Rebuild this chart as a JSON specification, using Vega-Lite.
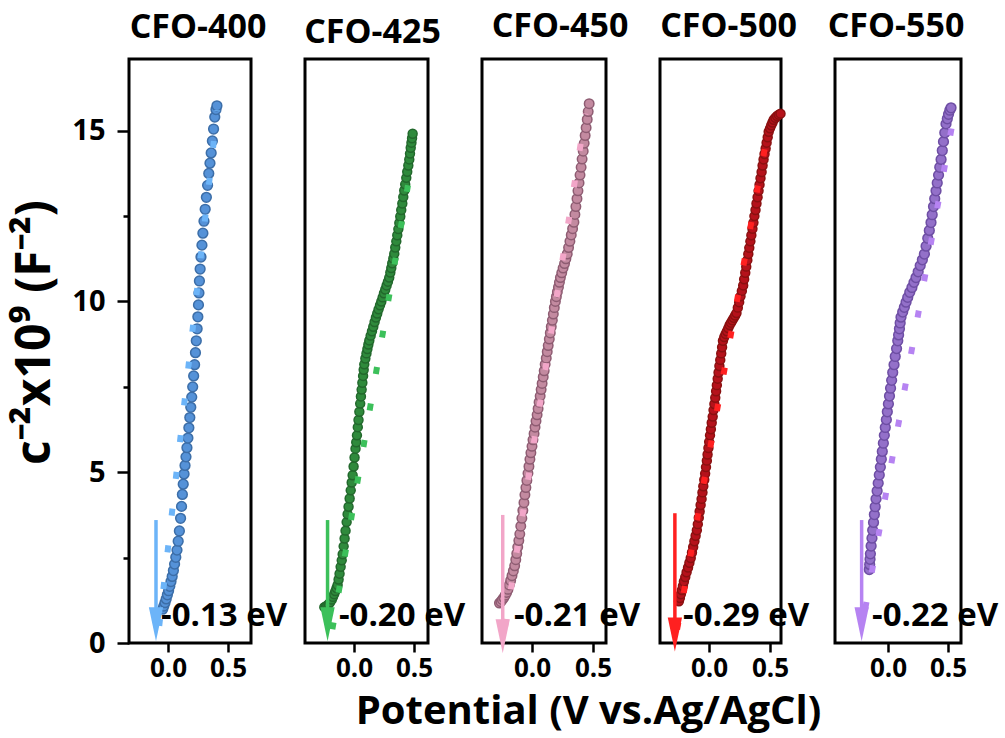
{
  "$schema": "https://vega.github.io/schema/vega-lite/v6.json",
  "autosize": {"type": "pad"},
  "padding": {"left": 9, "top": 8, "right": 5, "bottom": 5},
  "background": "white",
  "config": {
    "view": {"stroke": "black", "strokeWidth": 3},
    "axis": {"grid": false, "domain": false, "tickColor": "black", "tickWidth": 2.5, "labelColor": "black", "labelFont": "Open Sans", "labelFontWeight": "bold", "titleFont": "Open Sans", "titleFontWeight": "bold", "titleColor": "black", "labelOverlap": false, "labelFlush": false},
    "title": {"font": "Open Sans", "fontSize": 34, "fontWeight": "bold", "color": "black", "baseline": "alphabetic"}
  },
  "datasets": {
    "pts": [
      {"s":"400","v":-0.044,"c":0.99},{"s":"400","v":-0.035,"c":1.08},{"s":"400","v":-0.025,"c":1.18},{"s":"400","v":-0.015,"c":1.29},{"s":"400","v":-0.005,"c":1.41},{"s":"400","v":0.005,"c":1.53},{"s":"400","v":0.015,"c":1.66},{"s":"400","v":0.025,"c":1.80},{"s":"400","v":0.035,"c":1.95},{"s":"400","v":0.045,"c":2.12},{"s":"400","v":0.055,"c":2.31},{"s":"400","v":0.065,"c":2.51},{"s":"400","v":0.075,"c":2.72},{"s":"400","v":0.085,"c":2.98},{"s":"400","v":0.095,"c":3.28},{"s":"400","v":0.105,"c":3.65},{"s":"400","v":0.113,"c":4.0},{"s":"400","v":0.12,"c":4.35},{"s":"400","v":0.127,"c":4.65},{"s":"400","v":0.134,"c":4.95},{"s":"400","v":0.142,"c":5.2},{"s":"400","v":0.15,"c":5.45},{"s":"400","v":0.158,"c":5.72},{"s":"400","v":0.166,"c":6.0},{"s":"400","v":0.174,"c":6.3},{"s":"400","v":0.182,"c":6.6},{"s":"400","v":0.19,"c":6.9},{"s":"400","v":0.198,"c":7.2},{"s":"400","v":0.206,"c":7.5},{"s":"400","v":0.214,"c":7.82},{"s":"400","v":0.222,"c":8.15},{"s":"400","v":0.229,"c":8.5},{"s":"400","v":0.236,"c":8.85},{"s":"400","v":0.243,"c":9.2},{"s":"400","v":0.249,"c":9.55},{"s":"400","v":0.254,"c":9.9},{"s":"400","v":0.258,"c":10.25},{"s":"400","v":0.262,"c":10.6},{"s":"400","v":0.268,"c":10.95},{"s":"400","v":0.275,"c":11.3},{"s":"400","v":0.283,"c":11.65},{"s":"400","v":0.291,"c":12.0},{"s":"400","v":0.3,"c":12.35},{"s":"400","v":0.31,"c":12.7},{"s":"400","v":0.32,"c":13.05},{"s":"400","v":0.33,"c":13.4},{"s":"400","v":0.34,"c":13.75},{"s":"400","v":0.35,"c":14.05},{"s":"400","v":0.36,"c":14.35},{"s":"400","v":0.37,"c":14.7},{"s":"400","v":0.38,"c":15.05},{"s":"400","v":0.39,"c":15.4},{"s":"400","v":0.4,"c":15.62},{"s":"400","v":0.408,"c":15.73},

      {"s":"425","v":-0.247,"c":1.05},{"s":"425","v":-0.235,"c":1.07},{"s":"425","v":-0.222,"c":1.1},{"s":"425","v":-0.21,"c":1.14},{"s":"425","v":-0.198,"c":1.19},{"s":"425","v":-0.185,"c":1.27},{"s":"425","v":-0.175,"c":1.35},{"s":"425","v":-0.165,"c":1.43},{"s":"425","v":-0.155,"c":1.52},{"s":"425","v":-0.145,"c":1.61},{"s":"425","v":-0.136,"c":1.7},{"s":"425","v":-0.128,"c":1.86},{"s":"425","v":-0.12,"c":2.03},{"s":"425","v":-0.111,"c":2.23},{"s":"425","v":-0.102,"c":2.42},{"s":"425","v":-0.094,"c":2.6},{"s":"425","v":-0.086,"c":2.83},{"s":"425","v":-0.078,"c":3.06},{"s":"425","v":-0.07,"c":3.29},{"s":"425","v":-0.061,"c":3.54},{"s":"425","v":-0.053,"c":3.77},{"s":"425","v":-0.045,"c":3.99},{"s":"425","v":-0.036,"c":4.23},{"s":"425","v":-0.027,"c":4.47},{"s":"425","v":-0.019,"c":4.7},{"s":"425","v":-0.011,"c":4.91},{"s":"425","v":-0.003,"c":5.17},{"s":"425","v":0.005,"c":5.43},{"s":"425","v":0.013,"c":5.69},{"s":"425","v":0.019,"c":5.88},{"s":"425","v":0.025,"c":6.08},{"s":"425","v":0.032,"c":6.32},{"s":"425","v":0.038,"c":6.53},{"s":"425","v":0.045,"c":6.77},{"s":"425","v":0.052,"c":7.01},{"s":"425","v":0.058,"c":7.22},{"s":"425","v":0.064,"c":7.42},{"s":"425","v":0.07,"c":7.62},{"s":"425","v":0.076,"c":7.82},{"s":"425","v":0.081,"c":8.0},{"s":"425","v":0.086,"c":8.16},{"s":"425","v":0.095,"c":8.33},{"s":"425","v":0.104,"c":8.48},{"s":"425","v":0.112,"c":8.61},{"s":"425","v":0.12,"c":8.74},{"s":"425","v":0.128,"c":8.86},{"s":"425","v":0.139,"c":9.0},{"s":"425","v":0.15,"c":9.13},{"s":"425","v":0.161,"c":9.26},{"s":"425","v":0.172,"c":9.4},{"s":"425","v":0.183,"c":9.53},{"s":"425","v":0.194,"c":9.65},{"s":"425","v":0.205,"c":9.77},{"s":"425","v":0.217,"c":9.89},{"s":"425","v":0.228,"c":10.0},{"s":"425","v":0.239,"c":10.12},{"s":"425","v":0.25,"c":10.24},{"s":"425","v":0.261,"c":10.35},{"s":"425","v":0.272,"c":10.47},{"s":"425","v":0.283,"c":10.58},{"s":"425","v":0.294,"c":10.7},{"s":"425","v":0.303,"c":10.85},{"s":"425","v":0.311,"c":10.98},{"s":"425","v":0.319,"c":11.12},{"s":"425","v":0.328,"c":11.26},{"s":"425","v":0.336,"c":11.4},{"s":"425","v":0.344,"c":11.58},{"s":"425","v":0.353,"c":11.76},{"s":"425","v":0.361,"c":11.94},{"s":"425","v":0.37,"c":12.12},{"s":"425","v":0.378,"c":12.3},{"s":"425","v":0.386,"c":12.49},{"s":"425","v":0.394,"c":12.68},{"s":"425","v":0.403,"c":12.87},{"s":"425","v":0.411,"c":13.06},{"s":"425","v":0.419,"c":13.25},{"s":"425","v":0.427,"c":13.43},{"s":"425","v":0.436,"c":13.62},{"s":"425","v":0.444,"c":13.8},{"s":"425","v":0.453,"c":13.98},{"s":"425","v":0.461,"c":14.16},{"s":"425","v":0.467,"c":14.33},{"s":"425","v":0.473,"c":14.5},{"s":"425","v":0.479,"c":14.65},{"s":"425","v":0.484,"c":14.78},{"s":"425","v":0.489,"c":14.91},

      {"s":"450","v":-0.267,"c":1.17},{"s":"450","v":-0.255,"c":1.21},{"s":"450","v":-0.243,"c":1.27},{"s":"450","v":-0.231,"c":1.33},{"s":"450","v":-0.219,"c":1.4},{"s":"450","v":-0.208,"c":1.48},{"s":"450","v":-0.197,"c":1.57},{"s":"450","v":-0.186,"c":1.7},{"s":"450","v":-0.175,"c":1.83},{"s":"450","v":-0.164,"c":1.97},{"s":"450","v":-0.153,"c":2.11},{"s":"450","v":-0.142,"c":2.26},{"s":"450","v":-0.133,"c":2.44},{"s":"450","v":-0.125,"c":2.62},{"s":"450","v":-0.117,"c":2.81},{"s":"450","v":-0.108,"c":3.0},{"s":"450","v":-0.1,"c":3.19},{"s":"450","v":-0.092,"c":3.42},{"s":"450","v":-0.083,"c":3.65},{"s":"450","v":-0.075,"c":3.88},{"s":"450","v":-0.066,"c":4.11},{"s":"450","v":-0.058,"c":4.34},{"s":"450","v":-0.05,"c":4.55},{"s":"450","v":-0.042,"c":4.76},{"s":"450","v":-0.033,"c":4.97},{"s":"450","v":-0.025,"c":5.17},{"s":"450","v":-0.017,"c":5.38},{"s":"450","v":-0.009,"c":5.57},{"s":"450","v":0.0,"c":5.76},{"s":"450","v":0.008,"c":5.95},{"s":"450","v":0.017,"c":6.13},{"s":"450","v":0.025,"c":6.32},{"s":"450","v":0.033,"c":6.5},{"s":"450","v":0.042,"c":6.68},{"s":"450","v":0.05,"c":6.86},{"s":"450","v":0.058,"c":7.05},{"s":"450","v":0.067,"c":7.23},{"s":"450","v":0.075,"c":7.42},{"s":"450","v":0.083,"c":7.6},{"s":"450","v":0.092,"c":7.79},{"s":"450","v":0.1,"c":7.97},{"s":"450","v":0.108,"c":8.16},{"s":"450","v":0.117,"c":8.34},{"s":"450","v":0.125,"c":8.53},{"s":"450","v":0.133,"c":8.71},{"s":"450","v":0.142,"c":8.9},{"s":"450","v":0.15,"c":9.08},{"s":"450","v":0.158,"c":9.26},{"s":"450","v":0.167,"c":9.45},{"s":"450","v":0.175,"c":9.63},{"s":"450","v":0.183,"c":9.82},{"s":"450","v":0.192,"c":10.0},{"s":"450","v":0.2,"c":10.14},{"s":"450","v":0.208,"c":10.28},{"s":"450","v":0.217,"c":10.42},{"s":"450","v":0.225,"c":10.56},{"s":"450","v":0.233,"c":10.7},{"s":"450","v":0.244,"c":10.84},{"s":"450","v":0.255,"c":10.98},{"s":"450","v":0.267,"c":11.11},{"s":"450","v":0.278,"c":11.25},{"s":"450","v":0.289,"c":11.39},{"s":"450","v":0.3,"c":11.58},{"s":"450","v":0.311,"c":11.76},{"s":"450","v":0.322,"c":11.95},{"s":"450","v":0.333,"c":12.13},{"s":"450","v":0.344,"c":12.32},{"s":"450","v":0.352,"c":12.55},{"s":"450","v":0.36,"c":12.78},{"s":"450","v":0.369,"c":13.01},{"s":"450","v":0.377,"c":13.24},{"s":"450","v":0.386,"c":13.47},{"s":"450","v":0.394,"c":13.7},{"s":"450","v":0.403,"c":13.93},{"s":"450","v":0.411,"c":14.17},{"s":"450","v":0.42,"c":14.4},{"s":"450","v":0.428,"c":14.63},{"s":"450","v":0.436,"c":14.86},{"s":"450","v":0.444,"c":15.09},{"s":"450","v":0.453,"c":15.33},{"s":"450","v":0.461,"c":15.56},{"s":"450","v":0.469,"c":15.79},

      {"s":"500","v":-0.247,"c":1.22},{"s":"500","v":-0.239,"c":1.32},{"s":"500","v":-0.231,"c":1.43},{"s":"500","v":-0.222,"c":1.55},{"s":"500","v":-0.214,"c":1.67},{"s":"500","v":-0.206,"c":1.8},{"s":"500","v":-0.195,"c":1.93},{"s":"500","v":-0.184,"c":2.07},{"s":"500","v":-0.172,"c":2.21},{"s":"500","v":-0.161,"c":2.35},{"s":"500","v":-0.15,"c":2.49},{"s":"500","v":-0.14,"c":2.65},{"s":"500","v":-0.13,"c":2.81},{"s":"500","v":-0.12,"c":2.98},{"s":"500","v":-0.11,"c":3.14},{"s":"500","v":-0.1,"c":3.3},{"s":"500","v":-0.092,"c":3.48},{"s":"500","v":-0.084,"c":3.67},{"s":"500","v":-0.077,"c":3.85},{"s":"500","v":-0.069,"c":4.04},{"s":"500","v":-0.061,"c":4.22},{"s":"500","v":-0.054,"c":4.41},{"s":"500","v":-0.047,"c":4.59},{"s":"500","v":-0.039,"c":4.78},{"s":"500","v":-0.032,"c":4.96},{"s":"500","v":-0.025,"c":5.15},{"s":"500","v":-0.018,"c":5.34},{"s":"500","v":-0.012,"c":5.52},{"s":"500","v":-0.005,"c":5.71},{"s":"500","v":0.001,"c":5.89},{"s":"500","v":0.008,"c":6.08},{"s":"500","v":0.015,"c":6.26},{"s":"500","v":0.022,"c":6.45},{"s":"500","v":0.03,"c":6.63},{"s":"500","v":0.037,"c":6.82},{"s":"500","v":0.044,"c":7.0},{"s":"500","v":0.051,"c":7.18},{"s":"500","v":0.058,"c":7.37},{"s":"500","v":0.064,"c":7.55},{"s":"500","v":0.071,"c":7.74},{"s":"500","v":0.078,"c":7.92},{"s":"500","v":0.085,"c":8.11},{"s":"500","v":0.092,"c":8.29},{"s":"500","v":0.1,"c":8.48},{"s":"500","v":0.107,"c":8.66},{"s":"500","v":0.114,"c":8.85},{"s":"500","v":0.125,"c":8.96},{"s":"500","v":0.136,"c":9.05},{"s":"500","v":0.147,"c":9.13},{"s":"500","v":0.158,"c":9.22},{"s":"500","v":0.169,"c":9.31},{"s":"500","v":0.18,"c":9.38},{"s":"500","v":0.192,"c":9.45},{"s":"500","v":0.203,"c":9.52},{"s":"500","v":0.214,"c":9.59},{"s":"500","v":0.225,"c":9.66},{"s":"500","v":0.236,"c":9.82},{"s":"500","v":0.247,"c":9.98},{"s":"500","v":0.258,"c":10.15},{"s":"500","v":0.269,"c":10.31},{"s":"500","v":0.28,"c":10.47},{"s":"500","v":0.288,"c":10.65},{"s":"500","v":0.297,"c":10.84},{"s":"500","v":0.305,"c":11.02},{"s":"500","v":0.314,"c":11.21},{"s":"500","v":0.322,"c":11.39},{"s":"500","v":0.33,"c":11.57},{"s":"500","v":0.339,"c":11.76},{"s":"500","v":0.347,"c":11.94},{"s":"500","v":0.356,"c":12.13},{"s":"500","v":0.364,"c":12.31},{"s":"500","v":0.372,"c":12.5},{"s":"500","v":0.381,"c":12.68},{"s":"500","v":0.389,"c":12.87},{"s":"500","v":0.398,"c":13.05},{"s":"500","v":0.406,"c":13.24},{"s":"500","v":0.414,"c":13.42},{"s":"500","v":0.422,"c":13.61},{"s":"500","v":0.431,"c":13.79},{"s":"500","v":0.439,"c":13.98},{"s":"500","v":0.447,"c":14.16},{"s":"500","v":0.455,"c":14.32},{"s":"500","v":0.464,"c":14.48},{"s":"500","v":0.472,"c":14.65},{"s":"500","v":0.481,"c":14.81},{"s":"500","v":0.489,"c":14.97},{"s":"500","v":0.5,"c":15.07},{"s":"500","v":0.51,"c":15.16},{"s":"500","v":0.52,"c":15.24},{"s":"500","v":0.53,"c":15.32},{"s":"500","v":0.544,"c":15.38},{"s":"500","v":0.558,"c":15.43},{"s":"500","v":0.572,"c":15.47},{"s":"500","v":0.586,"c":15.5},

      {"s":"550","v":-0.156,"c":2.15},{"s":"550","v":-0.153,"c":2.3},{"s":"550","v":-0.15,"c":2.45},{"s":"550","v":-0.147,"c":2.61},{"s":"550","v":-0.141,"c":2.84},{"s":"550","v":-0.134,"c":3.07},{"s":"550","v":-0.128,"c":3.3},{"s":"550","v":-0.121,"c":3.53},{"s":"550","v":-0.114,"c":3.76},{"s":"550","v":-0.107,"c":3.99},{"s":"550","v":-0.1,"c":4.22},{"s":"550","v":-0.091,"c":4.45},{"s":"550","v":-0.082,"c":4.68},{"s":"550","v":-0.073,"c":4.92},{"s":"550","v":-0.064,"c":5.15},{"s":"550","v":-0.056,"c":5.38},{"s":"550","v":-0.048,"c":5.61},{"s":"550","v":-0.039,"c":5.85},{"s":"550","v":-0.031,"c":6.08},{"s":"550","v":-0.023,"c":6.31},{"s":"550","v":-0.014,"c":6.54},{"s":"550","v":-0.006,"c":6.77},{"s":"550","v":0.003,"c":7.0},{"s":"550","v":0.012,"c":7.23},{"s":"550","v":0.021,"c":7.46},{"s":"550","v":0.03,"c":7.69},{"s":"550","v":0.039,"c":7.92},{"s":"550","v":0.05,"c":8.15},{"s":"550","v":0.06,"c":8.39},{"s":"550","v":0.071,"c":8.62},{"s":"550","v":0.081,"c":8.85},{"s":"550","v":0.088,"c":9.02},{"s":"550","v":0.095,"c":9.2},{"s":"550","v":0.101,"c":9.37},{"s":"550","v":0.108,"c":9.54},{"s":"550","v":0.122,"c":9.69},{"s":"550","v":0.136,"c":9.83},{"s":"550","v":0.15,"c":9.98},{"s":"550","v":0.164,"c":10.12},{"s":"550","v":0.181,"c":10.27},{"s":"550","v":0.199,"c":10.41},{"s":"550","v":0.216,"c":10.56},{"s":"550","v":0.233,"c":10.7},{"s":"550","v":0.251,"c":10.87},{"s":"550","v":0.268,"c":11.05},{"s":"550","v":0.286,"c":11.22},{"s":"550","v":0.303,"c":11.39},{"s":"550","v":0.317,"c":11.62},{"s":"550","v":0.331,"c":11.85},{"s":"550","v":0.344,"c":12.08},{"s":"550","v":0.358,"c":12.31},{"s":"550","v":0.368,"c":12.54},{"s":"550","v":0.379,"c":12.78},{"s":"550","v":0.389,"c":13.01},{"s":"550","v":0.4,"c":13.24},{"s":"550","v":0.41,"c":13.47},{"s":"550","v":0.421,"c":13.7},{"s":"550","v":0.431,"c":13.93},{"s":"550","v":0.442,"c":14.16},{"s":"550","v":0.452,"c":14.42},{"s":"550","v":0.462,"c":14.68},{"s":"550","v":0.473,"c":14.94},{"s":"550","v":0.483,"c":15.2},{"s":"550","v":0.494,"c":15.35},{"s":"550","v":0.504,"c":15.48},{"s":"550","v":0.515,"c":15.6},{"s":"550","v":0.525,"c":15.67}
    ],
    "fit": [
      {"s":"400","v":-0.073,"c":0.5},{"s":"400","v":0.411,"c":15.6},
      {"s":"425","v":-0.18,"c":0.4},{"s":"425","v":0.45,"c":13.4},
      {"s":"450","v":-0.22,"c":0.5},{"s":"450","v":0.438,"c":15.5},
      {"s":"500","v":-0.262,"c":0.4},{"s":"500","v":0.499,"c":15.3},
      {"s":"550","v":-0.19,"c":1.0},{"s":"550","v":0.536,"c":15.2}
    ],
    "arr": [
      {"s":"400","v":-0.1,"c":3.6,"c2":0.9,"h":0.55},
      {"s":"425","v":-0.22,"c":3.6,"c2":0.9,"h":0.55},
      {"s":"450","v":-0.24,"c":3.75,"c2":0.6,"h":0.2},
      {"s":"500","v":-0.28,"c":3.8,"c2":0.6,"h":0.25},
      {"s":"550","v":-0.22,"c":3.6,"c2":0.9,"h":0.55}
    ],
    "lab": [
      {"s":"400","v":-0.058,"c":0.8,"t":"-0.13 eV"},
      {"s":"425","v":-0.125,"c":0.8,"t":"-0.20 eV"},
      {"s":"450","v":-0.148,"c":0.8,"t":"-0.21 eV"},
      {"s":"500","v":-0.213,"c":0.8,"t":"-0.29 eV"},
      {"s":"550","v":-0.133,"c":0.8,"t":"-0.22 eV"}
    ]
  },
  "hconcat": [
    {
      "width": 122, "height": 584,
      "title": {"text": "CFO-400", "offset": 14, "dx": 8},
      "resolve": {"axis": {"y": "independent"}},
      "layer": [
        {"data": {"name": "pts"}, "transform": [{"filter": "datum.s === '400'"}],
         "mark": {"type": "circle", "size": 95, "opacity": 1, "color": "#5592d8", "stroke": "#3c6ea8", "strokeWidth": 1.5},
         "encoding": {
           "x": {"field": "v", "type": "quantitative", "scale": {"domain": [-0.325, 0.692], "nice": false, "zero": false},
                 "axis": {"values": [0, 0.5], "format": ".1f", "labelFontSize": 26, "tickSize": 9, "labelPadding": 3, "title": null}},
           "y": {"field": "c", "type": "quantitative", "scale": {"domain": [0, 17.1], "nice": false, "zero": false},
                 "axis": {"orient": "left", "values": [0, 5, 10, 15], "tickSize": 12, "labelPadding": 12, "labelFontSize": 29,
                          "title": "c⁻²x10⁹ (F⁻²)", "titleFontSize": 48, "titleX": -80, "titleY": 273, "titleBaseline": "alphabetic", "titleAlign": "center"}}
         }},
        {"data": {"name": "fit"}, "transform": [{"filter": "datum.s === '400'"}],
         "mark": {"type": "line", "color": "#6cb4f8", "strokeWidth": 6, "strokeDash": [7, 30]},
         "encoding": {"x": {"field": "v", "type": "quantitative"},
                      "y": {"field": "c", "type": "quantitative", "axis": {"orient": "left", "values": [2.5, 7.5, 12.5], "labels": false, "tickSize": 6, "title": null}}}},
        {"data": {"name": "arr"}, "transform": [{"filter": "datum.s === '400'"}],
         "mark": {"type": "rule", "color": "#6cb4f8", "strokeWidth": 3.5},
         "encoding": {"x": {"field": "v", "type": "quantitative"}, "y": {"field": "c", "type": "quantitative", "axis": null}, "y2": {"field": "c2"}}},
        {"data": {"name": "arr"}, "transform": [{"filter": "datum.s === '400'"}],
         "mark": {"type": "point", "shape": "M-0.42,-1L0.42,-1L0,1Z", "size": 1156, "filled": true, "opacity": 1, "color": "#6cb4f8"},
         "encoding": {"x": {"field": "v", "type": "quantitative"}, "y": {"field": "h", "type": "quantitative", "axis": null}}},
        {"data": {"name": "lab"}, "transform": [{"filter": "datum.s === '400'"}],
         "mark": {"type": "text", "align": "left", "baseline": "middle", "font": "Open Sans", "fontSize": 33, "fontWeight": "bold", "color": "black"},
         "encoding": {"x": {"field": "v", "type": "quantitative"}, "y": {"field": "c", "type": "quantitative", "axis": null}, "text": {"field": "t"}}}
      ]
    },
    {
      "width": 123, "height": 584,
      "title": {"text": "CFO-425", "offset": 9, "dx": 6},
      "layer": [
        {"data": {"name": "pts"}, "transform": [{"filter": "datum.s === '425'"}],
         "mark": {"type": "circle", "size": 80, "opacity": 1, "color": "#2f8a3c", "stroke": "#22682c", "strokeWidth": 1.5},
         "encoding": {
           "x": {"field": "v", "type": "quantitative", "scale": {"domain": [-0.408, 0.617], "nice": false, "zero": false},
                 "axis": {"values": [0, 0.5], "format": ".1f", "labelFontSize": 26, "tickSize": 9, "labelPadding": 3, "title": null}},
           "y": {"field": "c", "type": "quantitative", "scale": {"domain": [0, 17.1], "nice": false, "zero": false}, "axis": null}
         }},
        {"data": {"name": "fit"}, "transform": [{"filter": "datum.s === '425'"}],
         "mark": {"type": "line", "color": "#3cc05a", "strokeWidth": 6, "strokeDash": [7, 30]},
         "encoding": {"x": {"field": "v", "type": "quantitative"}, "y": {"field": "c", "type": "quantitative", "axis": null}}},
        {"data": {"name": "arr"}, "transform": [{"filter": "datum.s === '425'"}],
         "mark": {"type": "rule", "color": "#3cc05a", "strokeWidth": 3.5},
         "encoding": {"x": {"field": "v", "type": "quantitative"}, "y": {"field": "c", "type": "quantitative", "axis": null}, "y2": {"field": "c2"}}},
        {"data": {"name": "arr"}, "transform": [{"filter": "datum.s === '425'"}],
         "mark": {"type": "point", "shape": "M-0.42,-1L0.42,-1L0,1Z", "size": 1156, "filled": true, "opacity": 1, "color": "#3cc05a"},
         "encoding": {"x": {"field": "v", "type": "quantitative"}, "y": {"field": "h", "type": "quantitative", "axis": null}}},
        {"data": {"name": "lab"}, "transform": [{"filter": "datum.s === '425'"}],
         "mark": {"type": "text", "align": "left", "baseline": "middle", "font": "Open Sans", "fontSize": 33, "fontWeight": "bold", "color": "black"},
         "encoding": {"x": {"field": "v", "type": "quantitative"}, "y": {"field": "c", "type": "quantitative", "axis": null}, "text": {"field": "t"}}}
      ]
    },
    {
      "width": 124, "height": 584,
      "title": {"text": "CFO-450", "offset": 15, "dx": 16},
      "layer": [
        {"data": {"name": "pts"}, "transform": [{"filter": "datum.s === '450'"}],
         "mark": {"type": "circle", "size": 90, "opacity": 1, "color": "#c38aa0", "stroke": "#8e5c72", "strokeWidth": 1.5},
         "encoding": {
           "x": {"field": "v", "type": "quantitative", "scale": {"domain": [-0.41, 0.607], "nice": false, "zero": false},
                 "axis": {"values": [0, 0.5], "format": ".1f", "labelFontSize": 26, "tickSize": 9, "labelPadding": 3,
                          "title": "Potential (V vs.Ag/AgCl)", "titleFontSize": 40, "titleX": 106, "titleY": 80, "titleBaseline": "alphabetic", "titleAlign": "center"}},
           "y": {"field": "c", "type": "quantitative", "scale": {"domain": [0, 17.1], "nice": false, "zero": false}, "axis": null}
         }},
        {"data": {"name": "fit"}, "transform": [{"filter": "datum.s === '450'"}],
         "mark": {"type": "line", "color": "#f2a6c8", "strokeWidth": 6, "strokeDash": [7, 30]},
         "encoding": {"x": {"field": "v", "type": "quantitative"}, "y": {"field": "c", "type": "quantitative", "axis": null}}},
        {"data": {"name": "arr"}, "transform": [{"filter": "datum.s === '450'"}],
         "mark": {"type": "rule", "color": "#f2a6c8", "strokeWidth": 3.5},
         "encoding": {"x": {"field": "v", "type": "quantitative"}, "y": {"field": "c", "type": "quantitative", "axis": null}, "y2": {"field": "c2"}}},
        {"data": {"name": "arr"}, "transform": [{"filter": "datum.s === '450'"}],
         "mark": {"type": "point", "shape": "M-0.42,-1L0.42,-1L0,1Z", "size": 1156, "filled": true, "opacity": 1, "color": "#f2a6c8"},
         "encoding": {"x": {"field": "v", "type": "quantitative"}, "y": {"field": "h", "type": "quantitative", "axis": null}}},
        {"data": {"name": "lab"}, "transform": [{"filter": "datum.s === '450'"}],
         "mark": {"type": "text", "align": "left", "baseline": "middle", "font": "Open Sans", "fontSize": 33, "fontWeight": "bold", "color": "black"},
         "encoding": {"x": {"field": "v", "type": "quantitative"}, "y": {"field": "c", "type": "quantitative", "axis": null}, "text": {"field": "t"}}}
      ]
    },
    {
      "width": 121, "height": 584,
      "title": {"text": "CFO-500", "offset": 15, "dx": 8},
      "layer": [
        {"data": {"name": "pts"}, "transform": [{"filter": "datum.s === '500'"}],
         "mark": {"type": "circle", "size": 80, "opacity": 1, "color": "#b5121b", "stroke": "#8a1010", "strokeWidth": 1.5},
         "encoding": {
           "x": {"field": "v", "type": "quantitative", "scale": {"domain": [-0.402, 0.59], "nice": false, "zero": false},
                 "axis": {"values": [0, 0.5], "format": ".1f", "labelFontSize": 26, "tickSize": 9, "labelPadding": 3, "title": null}},
           "y": {"field": "c", "type": "quantitative", "scale": {"domain": [0, 17.1], "nice": false, "zero": false}, "axis": null}
         }},
        {"data": {"name": "fit"}, "transform": [{"filter": "datum.s === '500'"}],
         "mark": {"type": "line", "color": "#ff2020", "strokeWidth": 6, "strokeDash": [7, 30]},
         "encoding": {"x": {"field": "v", "type": "quantitative"}, "y": {"field": "c", "type": "quantitative", "axis": null}}},
        {"data": {"name": "arr"}, "transform": [{"filter": "datum.s === '500'"}],
         "mark": {"type": "rule", "color": "#ff2020", "strokeWidth": 3.5},
         "encoding": {"x": {"field": "v", "type": "quantitative"}, "y": {"field": "c", "type": "quantitative", "axis": null}, "y2": {"field": "c2"}}},
        {"data": {"name": "arr"}, "transform": [{"filter": "datum.s === '500'"}],
         "mark": {"type": "point", "shape": "M-0.42,-1L0.42,-1L0,1Z", "size": 1156, "filled": true, "opacity": 1, "color": "#ff2020"},
         "encoding": {"x": {"field": "v", "type": "quantitative"}, "y": {"field": "h", "type": "quantitative", "axis": null}}},
        {"data": {"name": "lab"}, "transform": [{"filter": "datum.s === '500'"}],
         "mark": {"type": "text", "align": "left", "baseline": "middle", "font": "Open Sans", "fontSize": 33, "fontWeight": "bold", "color": "black"},
         "encoding": {"x": {"field": "v", "type": "quantitative"}, "y": {"field": "c", "type": "quantitative", "axis": null}, "text": {"field": "t"}}}
      ]
    },
    {
      "width": 126, "height": 584,
      "title": {"text": "CFO-550", "offset": 15, "dx": -2},
      "layer": [
        {"data": {"name": "pts"}, "transform": [{"filter": "datum.s === '550'"}],
         "mark": {"type": "circle", "size": 95, "opacity": 1, "color": "#9370c9", "stroke": "#6e4ea4", "strokeWidth": 1.5},
         "encoding": {
           "x": {"field": "v", "type": "quantitative", "scale": {"domain": [-0.442, 0.608], "nice": false, "zero": false},
                 "axis": {"values": [0, 0.5], "format": ".1f", "labelFontSize": 26, "tickSize": 9, "labelPadding": 3, "title": null}},
           "y": {"field": "c", "type": "quantitative", "scale": {"domain": [0, 17.1], "nice": false, "zero": false}, "axis": null}
         }},
        {"data": {"name": "fit"}, "transform": [{"filter": "datum.s === '550'"}],
         "mark": {"type": "line", "color": "#b683f2", "strokeWidth": 6, "strokeDash": [7, 30]},
         "encoding": {"x": {"field": "v", "type": "quantitative"}, "y": {"field": "c", "type": "quantitative", "axis": null}}},
        {"data": {"name": "arr"}, "transform": [{"filter": "datum.s === '550'"}],
         "mark": {"type": "rule", "color": "#b683f2", "strokeWidth": 3.5},
         "encoding": {"x": {"field": "v", "type": "quantitative"}, "y": {"field": "c", "type": "quantitative", "axis": null}, "y2": {"field": "c2"}}},
        {"data": {"name": "arr"}, "transform": [{"filter": "datum.s === '550'"}],
         "mark": {"type": "point", "shape": "M-0.42,-1L0.42,-1L0,1Z", "size": 1156, "filled": true, "opacity": 1, "color": "#b683f2"},
         "encoding": {"x": {"field": "v", "type": "quantitative"}, "y": {"field": "h", "type": "quantitative", "axis": null}}},
        {"data": {"name": "lab"}, "transform": [{"filter": "datum.s === '550'"}],
         "mark": {"type": "text", "align": "left", "baseline": "middle", "font": "Open Sans", "fontSize": 33, "fontWeight": "bold", "color": "black"},
         "encoding": {"x": {"field": "v", "type": "quantitative"}, "y": {"field": "c", "type": "quantitative", "axis": null}, "text": {"field": "t"}}}
      ]
    }
  ],
  "spacing": 54,
  "bounds": "flush"
}
